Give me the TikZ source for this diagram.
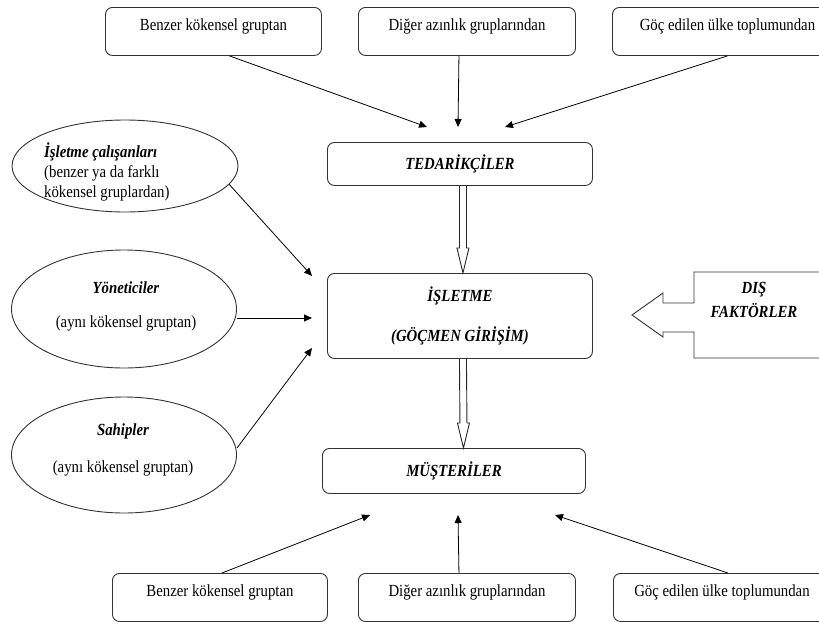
\documentclass[tikz,border=0pt]{standalone}
\usepackage{fontspec}
\setmainfont{Liberation Serif}[FakeStretch=0.87]
\usetikzlibrary{arrows.meta, shapes.geometric, calc}

\newcommand{\yazi}{\fontsize{17}{20}\selectfont}

\tikzset{
	kutu/.style={draw=black!80, line width=0.9pt, rounded corners=7pt, anchor=north west, inner sep=0pt},
	grup/.style={kutu, text height=23pt, text depth=25pt},
	ana/.style={kutu, font=\yazi\bfseries\itshape},
	oval/.style={draw=black!80, line width=0.9pt, ellipse, inner sep=0pt},
	ok/.style={-{Triangle[length=8pt, width=7pt]}, line width=0.8pt},
	bos/.style={draw=black!85, line width=0.9pt},
}

% hollow block arrow from #1 (top) to #2 (tip)
\newcommand{\bosok}[2]{%
	\draw[bos] ($(#1)+(-3.5,0)$) -- ($(#2)+(-3.5,-25)$) -- ($(#2)+(-6,-25)$) -- (#2)
		-- ($(#2)+(6,-25)$) -- ($(#2)+(3.5,-25)$) -- ($(#1)+(3.5,0)$);}

\begin{document}
\begin{tikzpicture}[x=1pt, y=-1pt, font=\yazi]
	\clip (0,0) rectangle (819,621);
	
	% top groups
	\node[grup, minimum width=216pt] (ust1) at (105,7) {Benzer kökensel gruptan};
	\node[grup, minimum width=217pt] (ust2) at (358,7) {Diğer azınlık gruplarından};
	\node[grup, minimum width=230pt] (ust3) at (612,7) {Göç edilen ülke toplumundan};
	
	% main column
	\node[ana, minimum width=265pt, minimum height=43pt] (ted) at (327,142) {TEDARİKÇİLER};
	\node[ana, minimum width=265pt, minimum height=85pt, align=center] (isl) at (327,273) {İŞLETME\\[20pt](GÖÇMEN GİRİŞİM)};
	\node[ana, minimum width=263pt, minimum height=45pt] (mus) at (322,448) {MÜŞTERİLER};
	
	% bottom groups
	\node[grup, minimum width=215pt] (alt1) at (112,573) {Benzer kökensel gruptan};
	\node[grup, minimum width=217pt] (alt2) at (358,573) {Diğer azınlık gruplarından};
	\node[grup, minimum width=217pt] (alt3) at (613,573) {Göç edilen ülke toplumundan};
	
	% people
	\node[oval, minimum width=226pt, minimum height=92pt] (calisan) at (125,166) {};
	\node[align=left, anchor=north west, inner sep=0pt] (calisanyazi) at (44,143)
		{\textbf{\textit{İşletme çalışanları}}\\(benzer ya da farklı\\kökensel gruplardan)};
	\node[oval, minimum width=225pt, minimum height=118pt] (yonetici) at (124,309) {};
	\node[align=center, inner sep=0pt] (yoneticiyazi) at (126,306)
		{\textbf{\textit{Yöneticiler}}\\[14pt](aynı kökensel gruptan)};
	\node[oval, minimum width=225pt, minimum height=116pt] (sahip) at (124,455) {};
	\node[align=center, inner sep=0pt] (sahipyazi) at (123,450)
		{\textbf{\textit{Sahipler}}\\[17pt](aynı kökensel gruptan)};
	
	% external factors
	\draw[bos, draw=black!80, line width=0.9pt] (830,272) -- (694,272) -- (694,303) -- (663,303) -- (663,293)
		-- (632,315) -- (663,337) -- (663,332) -- (694,332) -- (694,358) -- (830,358);
	\node[font=\fontsize{17}{24}\selectfont\bfseries\itshape, align=center] (dis) at (754,300) {DIŞ\\FAKTÖRLER};
	
	% arrow ends
	\coordinate (t1) at (427,127);
	\coordinate (t2) at (458,127);
	\coordinate (t3) at (505,127);
	\coordinate (i1) at (312,276);
	\coordinate (i2) at (312,318);
	\coordinate (i3) at (312,348);
	\coordinate (m1) at (370,515);
	\coordinate (m2) at (458,515);
	\coordinate (m3) at (555,515);
	
	\draw[ok] ([xshift=16pt]ust1.south) -- (t1);
	\draw[ok] ([xshift=-8pt]ust2.south) -- (t2);
	\draw[ok] (ust3.south) -- (t3);
	
	\draw[ok] (calisan.-10) -- (i1);
	\draw[ok] ([yshift=-9pt]yonetici.east) -- (i2);
	\draw[ok] ([yshift=7pt]sahip.east) -- (i3);
	
	\draw[ok] ([xshift=2pt]alt1.north) -- (m1);
	\draw[ok] ([xshift=-8pt]alt2.north) -- (m2);
	\draw[ok] ([xshift=6pt]alt3.north) -- (m3);
	
	% supply chain
	\coordinate (s1) at ($(ted.south)+(3,0)$);
	\coordinate (s2) at ($(isl.north)+(3,0)$);
	\coordinate (s3) at ($(isl.south)+(3,0)$);
	\coordinate (s4) at ($(mus.north)+(9.5,0)$);
	\bosok{s1}{s2}
	\bosok{s3}{s4}
\end{tikzpicture}
\end{document}
